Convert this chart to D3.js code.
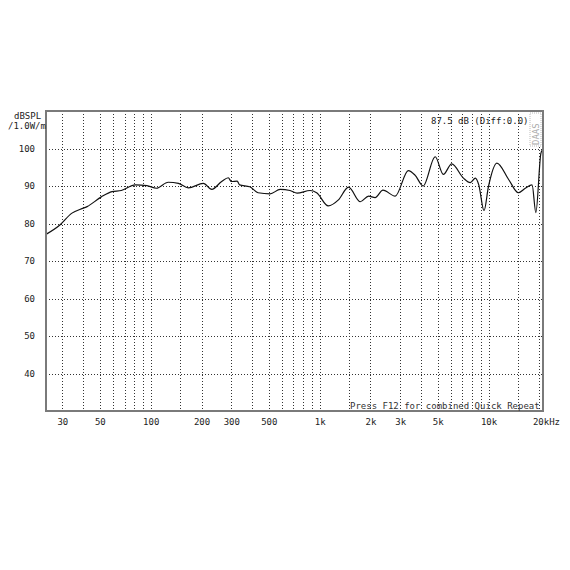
<!DOCTYPE html>
<head>
	<meta charset="utf-8">
	<style>
		body { margin: 0; background: #fff; }
		svg { display: block; background: #fff; }
		text { font-family: "DejaVu Sans Mono", "Liberation Mono", monospace; font-size: 9px; fill: #222; }
		.grid line { stroke: #333; stroke-width: 1; stroke-dasharray: 1,2; shape-rendering: crispEdges; }
		.curve { fill: none; stroke: #111; stroke-width: 1.2px; }
		.frame { fill: none; stroke: #7a7a7a; stroke-width: 2px; shape-rendering: crispEdges; }
	</style>
	<script src="https://d3js.org/d3.v7.min.js"></script>
</head>
<body>
<div id="chart"></div>
<script>
	// measured response, Hz / dB SPL
	var freqs = [24, 29, 34, 40, 42, 51, 59, 67, 81, 95, 108, 127, 146, 167, 205, 230, 263, 288, 300, 325, 336,
		386, 432, 509, 584, 668, 735, 879, 960, 1125, 1292, 1483, 1740, 1950, 2130, 2370, 2800, 3350, 3670,
		4100, 4830, 5400, 6050, 7100, 7790, 8360, 8750, 9400, 9980, 11200, 13200, 15000, 16500, 18100,
		19050, 20400, 20800];
	var spl = [77.1, 79.6, 82.7, 84.1, 84.5, 87.1, 88.5, 88.8, 90.3, 90.1, 89.4, 91.0, 90.7, 89.5, 90.7, 89.1, 91.2,
		92.2, 91.2, 91.3, 90.3, 89.8, 88.2, 87.9, 89.1, 88.8, 88.1, 88.8, 88.2, 84.7, 86.3, 89.7, 85.8, 87.3,
		86.9, 88.9, 87.3, 94.1, 92.9, 90.0, 97.8, 93.1, 95.9, 92.1, 90.9, 92.1, 90.3, 83.4, 89.8, 96.1, 91.6,
		88.2, 89.4, 90.3, 82.9, 98.7, 99.6];

	var xTicks = [30, 50, 100, 200, 300, 500, 1000, 2000, 3000, 5000, 10000, 20000];
	var xTickLabels = ["30", "50", "100", "200", "300", "500", "1k", "2k", "3k", "5k", "10k", "20k"];
	var gridFreqs = [30, 40, 50, 60, 70, 80, 90, 100, 150, 200, 300, 400, 500, 600, 700, 800, 900,
		1000, 1500, 2000, 3000, 4000, 5000, 6000, 7000, 8000, 9000, 10000, 15000, 20000];
	var yTicks = [40, 50, 60, 70, 80, 90, 100];

	var W = 570, H = 570,
		pLeft = 46, pRight = 543, pTop = 111, pBottom = 411;

	var svg = d3.select("#chart").append("svg")
		.attr("width", W)
		.attr("height", H);

	var x = d3.scaleLog().domain([24, 21000]).range([pLeft, pRight]);
	var y = d3.scaleLinear().domain([30, 110]).range([pBottom, pTop]);

	// grid
	var grid = svg.append("g").attr("class", "grid");
	grid.selectAll(".v")
		.data(gridFreqs)
		.enter().append("line")
		.attr("class", "v")
		.attr("x1", function (d) { return Math.round(x(d)) + 0.5; })
		.attr("x2", function (d) { return Math.round(x(d)) + 0.5; })
		.attr("y1", pTop)
		.attr("y2", pBottom);
	grid.selectAll(".h")
		.data(yTicks)
		.enter().append("line")
		.attr("class", "h")
		.attr("x1", pLeft)
		.attr("x2", pRight)
		.attr("y1", function (d) { return Math.round(y(d)) + 0.5; })
		.attr("y2", function (d) { return Math.round(y(d)) + 0.5; });

	// y labels
	var yAxis = d3.axisLeft(y).tickValues(yTicks).tickSize(0).tickPadding(11);
	var gy = svg.append("g")
		.attr("transform", "translate(" + pLeft + ",0)")
		.call(yAxis);
	gy.select(".domain").remove();
	gy.attr("font-family", null).attr("font-size", null);
	gy.selectAll("text").attr("fill", "#222");

	// x labels
	var xAxis = d3.axisBottom(x).tickValues(xTicks).tickSize(0).tickPadding(8)
		.tickFormat(function (d, i) { return xTickLabels[i]; });
	var gx = svg.append("g")
		.attr("transform", "translate(0," + pBottom + ")")
		.call(xAxis);
	gx.select(".domain").remove();
	gx.attr("font-family", null).attr("font-size", null);
	gx.selectAll("text").attr("fill", "#222");
	gx.selectAll(".tick").filter(function (d) { return d === 20000; })
		.select("text")
		.attr("text-anchor", "start")
		.attr("dx", -7)
		.text("20kHz");

	// response curve
	var line = d3.line()
		.x(function (d, i) { return x(freqs[i]); })
		.y(function (d) { return y(d); })
		.curve(d3.curveMonotoneX);
	svg.append("path")
		.datum(spl)
		.attr("class", "curve")
		.attr("d", line);

	// frame
	svg.append("rect")
		.attr("class", "frame")
		.attr("x", pLeft)
		.attr("y", pTop)
		.attr("width", pRight - pLeft)
		.attr("height", pBottom - pTop);

	// texts
	svg.append("text").attr("x", 14).attr("y", 119).text("dBSPL");
	svg.append("text").attr("x", 8).attr("y", 129).text("/1.0W/m");
	svg.append("text").attr("x", 431).attr("y", 124).text("87.5 dB (Diff:0.0)");
	svg.append("text").attr("x", 350).attr("y", 409).style("fill", "#333")
		.text("Press F12 for combined Quick Repeat");

	svg.append("rect")
		.attr("x", 530).attr("y", 113).attr("width", 11).attr("height", 33)
		.attr("fill", "#fff").attr("stroke", "#bbb").attr("stroke-dasharray", "1,1");
	svg.append("text")
		.attr("transform", "translate(539,145) rotate(-90)")
		.style("fill", "#aaa")
		.text("DAAS");
</script>
</body>
